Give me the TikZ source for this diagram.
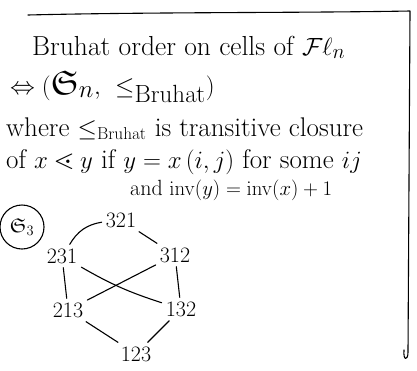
\documentclass[tikz,border=0pt]{standalone}
\usepackage{amsmath}
\usepackage{amssymb}
\begin{document}
\begin{tikzpicture}[x=1pt,y=-1pt,
  ink/.style={line width=1.1pt, line cap=round, line join=round},
  hand/.style={inner sep=0pt, anchor=base west},
  perm/.style={font=\fontsize{22}{24}\selectfont, inner sep=4pt}]
\useasboundingbox (0,0) rectangle (417,370);
% frame
\coordinate (tl) at (28,15);
\coordinate (tr) at (410,11);
\coordinate (br) at (408,352);
\coordinate (hk) at (404,350);
\draw[ink] (tl) .. controls (150,12) and (300,13) .. (tr) -- (br) .. controls (408,361) and (403,361) .. (hk);
% text
\node[hand, font=\fontsize{27.5}{32}\selectfont] (l1) at (32,55)
  {Bruhat order on cells of $\mathcal{F}\ell_n$};
\node[hand, font=\fontsize{34}{38}\selectfont] (l2) at (10,94)
  {$\Leftrightarrow(\mathfrak{S}_n,\ \le_{\mathrm{Bruhat}})$};
\node[hand, font=\fontsize{27}{30}\selectfont] (l3) at (6,136)
  {where $\le_{\mathrm{Bruhat}}$ is transitive closure};
\node[hand, font=\fontsize{27}{30}\selectfont] (l4) at (6,168)
  {of $x\lessdot y$ if $y=x\,(i,j)$ for some $ij$};
\node[hand, font=\fontsize{22}{26}\selectfont] (l5) at (130,195)
  {and $\mathrm{inv}(y)=\mathrm{inv}(x)+1$};
% S3
\node[draw, circle, line width=1.1pt, minimum size=44pt, inner sep=0pt,
  font=\fontsize{20}{24}\selectfont] (s3) at (22,227) {$\mathfrak{S}_3$};
% Hasse diagram
\node[perm] (n321) at (121,220) {321};
\node[perm] (n231) at (62,256) {231};
\node[perm] (n312) at (175,255) {312};
\node[perm] (n213) at (68,310) {213};
\node[perm] (n132) at (181,309) {132};
\node[perm] (n123) at (136,354) {123};
\draw[ink] (n231) to[bend left=25] (n321);
\draw[ink] (n321) -- (n312);
\draw[ink] (n231) -- (n213);
\draw[ink] (n312) -- (n132);
\draw[ink] (n231) to[bend right=6] (n132);
\draw[ink] (n312) -- (n213);
\draw[ink] (n213) -- (n123);
\draw[ink] (n132) -- (n123);
\end{tikzpicture}
\end{document}
